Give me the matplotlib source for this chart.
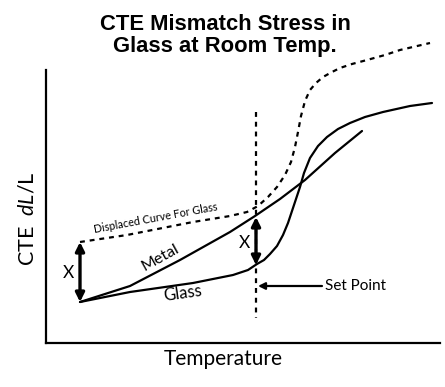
import matplotlib
matplotlib.use("Agg")
import matplotlib.pyplot as plt

metal_x = [80, 130, 180, 230, 255, 280, 305, 335, 362]
metal_y = [302, 286, 260, 232, 216, 199, 180, 153, 131]

glass_x = [80, 130, 193, 233, 248, 257, 264, 270, 277, 283, 288, 293, 297, 300, 304, 310, 318, 327, 338, 350, 365, 383, 410, 432]
glass_y = [302, 292, 283, 275, 270, 264, 260, 254, 246, 235, 223, 208, 196, 187, 173, 158, 146, 137, 129, 123, 117, 112, 106, 103]

displaced_x = [80, 127, 193, 230, 247, 258, 268, 277, 285, 291, 295, 298, 301, 305, 310, 316, 323, 332, 340, 352, 367, 385, 400, 430]
displaced_y = [242, 235, 222, 216, 212, 206, 197, 187, 175, 162, 147, 132, 116, 101, 90, 83, 77, 72, 68, 64, 60, 55, 50, 43]

set_point_x = 256
set_point_ymin, set_point_ymax = 112, 318
start_x = 80
start_metal_glass_y = 302
start_displaced_y = 242
metal_at_set = 217
glass_at_set = 265

title_text = "CTE Mismatch Stress in\nGlass at Room Temp."
xlabel_text = "Temperature"

LABEL_FONT = ["Lato", "DejaVu Sans"]
plt.rcParams["mathtext.fontset"] = "custom"
plt.rcParams["mathtext.it"] = "Lato:italic"
plt.rcParams["mathtext.rm"] = "Lato"

fig = plt.figure(figsize=(4.45, 3.87), dpi=100)
W, H = 445, 387
x0, x1, y0, y1 = 46, 440, 70, 343
ax = fig.add_axes([x0 / W, (H - y1) / H, (x1 - x0) / W, (y1 - y0) / H])
ax.set_xlim(x0, x1)
ax.set_ylim(y1, y0)
for s in ["top", "right"]:
    ax.spines[s].set_visible(False)
for s in ["left", "bottom"]:
    ax.spines[s].set_linewidth(1.6)
ax.set_xticks([])
ax.set_yticks([])

ax.plot(metal_x, metal_y, color="black", lw=1.6, solid_capstyle="round", clip_on=False)
ax.plot(glass_x, glass_y, color="black", lw=1.6, solid_capstyle="round", clip_on=False)
ax.plot(displaced_x, displaced_y, color="black", lw=1.6, linestyle=(0, (2.2, 2.2)), clip_on=False)
ax.plot([set_point_x, set_point_x], [set_point_ymin, set_point_ymax], color="black", lw=1.6,
        linestyle=(0, (2.2, 2.2)), clip_on=False)

arrow_kw = dict(arrowstyle="<|-|>", lw=2.4, color="black", mutation_scale=13, shrinkA=0, shrinkB=0)
ax.annotate("", xy=(start_x, start_displaced_y), xytext=(start_x, start_metal_glass_y), arrowprops=arrow_kw)
ax.annotate("", xy=(set_point_x, metal_at_set), xytext=(set_point_x, glass_at_set), arrowprops=arrow_kw)

ax.annotate("", xy=(set_point_x + 2, 286), xytext=(322, 286),
            arrowprops=dict(arrowstyle="-|>", lw=1.6, color="black", mutation_scale=10, shrinkA=0, shrinkB=0))
ax.text(325, 286, "Set Point", family=LABEL_FONT, fontsize=11, va="center", ha="left")

ax.text(68, 273, "X", family=LABEL_FONT, fontsize=12.5, ha="center", va="center")
ax.text(244, 243, "X", family=LABEL_FONT, fontsize=12.5, ha="center", va="center")

ax.text(160, 258, "Metal", family=LABEL_FONT, fontsize=11.5, ha="center", va="center", rotation=29)
ax.text(183, 293, "Glass", family=LABEL_FONT, fontsize=12, ha="center", va="center", rotation=8)
ax.text(156, 218, "Displaced Curve For Glass", family=LABEL_FONT, fontsize=7.8, ha="center", va="center",
        rotation=10.5)

fig.text(225 / W, 1 - 35.5 / H, title_text, family=["Liberation Sans", "DejaVu Sans"], fontweight="bold",
         fontsize=15.8, ha="center", va="center", linespacing=1.1)
fig.text(223 / W, 1 - 359 / H, xlabel_text, family=LABEL_FONT, fontsize=15, ha="center", va="center")
fig.text(28 / W, 1 - 219 / H, r"CTE  $\mathit{dL}$/L", family=LABEL_FONT, fontsize=15.5, ha="center",
         va="center", rotation=90)

fig.savefig("out.png", dpi=100)
